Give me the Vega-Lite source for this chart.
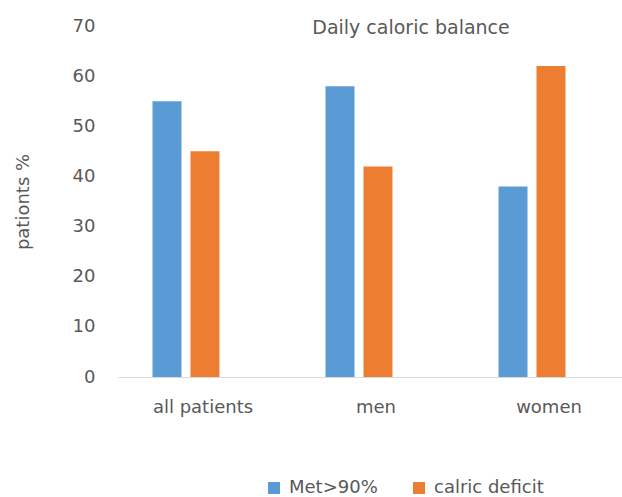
{
  "$schema": "https://vega.github.io/schema/vega-lite/v6.json",
  "width": 504,
  "height": 351,
  "autosize": {"type": "none"},
  "padding": {"left": 118, "top": 26, "right": 0, "bottom": 120},
  "background": "white",
  "config": {
    "view": {"stroke": null},
    "font": "DejaVu Sans"
  },
  "title": {
    "text": "Daily caloric balance",
    "anchor": "middle",
    "dx": 41,
    "dy": 21,
    "offset": 0,
    "fontSize": 19,
    "fontWeight": "normal",
    "color": "#595959",
    "font": "DejaVu Sans"
  },
  "data": {
    "values": [
      {"group": "all patients", "series": "Met>90%", "value": 55},
      {"group": "all patients", "series": "calric deficit", "value": 45},
      {"group": "men", "series": "Met>90%", "value": 58},
      {"group": "men", "series": "calric deficit", "value": 42},
      {"group": "women", "series": "Met>90%", "value": 38},
      {"group": "women", "series": "calric deficit", "value": 62}
    ]
  },
  "mark": {"type": "bar"},
  "encoding": {
    "x": {
      "field": "group",
      "type": "nominal",
      "sort": ["all patients", "men", "women"],
      "scale": {"paddingInner": 0.613, "paddingOuter": 0.263, "align": 0.379},
      "axis": {
        "title": null,
        "labelAngle": 0,
        "ticks": false,
        "domainColor": "#D9D9D9",
        "domainWidth": 1,
        "labelColor": "#595959",
        "labelFontSize": 18,
        "labelPadding": 21,
        "labelOffset": 17,
        "labelFont": "DejaVu Sans"
      }
    },
    "xOffset": {
      "field": "series",
      "type": "nominal",
      "sort": ["Met>90%", "calric deficit"],
      "scale": {"paddingInner": 0.237, "paddingOuter": 0}
    },
    "y": {
      "field": "value",
      "type": "quantitative",
      "scale": {"domain": [0, 70], "nice": false},
      "axis": {
        "title": "pationts %",
        "values": [0, 10, 20, 30, 40, 50, 60, 70],
        "grid": false,
        "domain": false,
        "ticks": false,
        "labelColor": "#595959",
        "labelFontSize": 18,
        "labelPadding": 23,
        "labelFont": "DejaVu Sans",
        "titleColor": "#595959",
        "titleFontSize": 18,
        "titleFontWeight": "normal",
        "titleFont": "DejaVu Sans",
        "titlePadding": 40
      }
    },
    "color": {
      "field": "series",
      "type": "nominal",
      "sort": ["Met>90%", "calric deficit"],
      "scale": {"domain": ["Met>90%", "calric deficit"], "range": ["#5B9BD5", "#ED7D31"]},
      "legend": {
        "title": null,
        "orient": "none",
        "direction": "horizontal",
        "legendX": 147,
        "legendY": 453,
        "symbolType": "square",
        "symbolSize": 144,
        "symbolStrokeWidth": 0,
        "labelFontSize": 18,
        "labelColor": "#595959",
        "labelFont": "DejaVu Sans",
        "columnPadding": 32,
        "labelOffset": 6
      }
    }
  }
}
